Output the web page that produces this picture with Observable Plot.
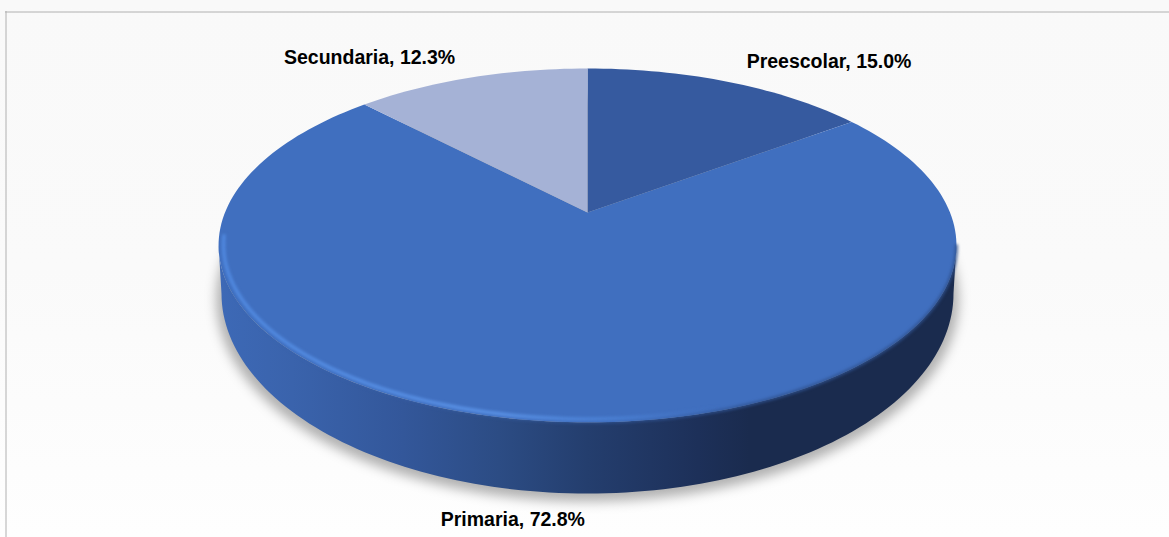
<!DOCTYPE html>
<html><head><meta charset="utf-8">
<script src="https://cdn.jsdelivr.net/npm/d3@7"></script>
<script src="https://cdn.jsdelivr.net/npm/@observablehq/plot@0.6"></script>
<style>html,body{margin:0;padding:0;background:#fbfbfb;overflow:hidden}svg{display:block}</style>
</head><body><div id="chart"></div>
<script>
const categories = ["Preescolar", "Primaria", "Secundaria"];
const shares = [15.0, 72.8, 12.3];
const colors = ["#365a9f", "#406fbf", "#a5b2d6"];
const labelDx = [100.5, -37, -101.5];
const labelDy = [-20, 98, -20];

const W = 1169, H = 537;
// perspective disc: angle (clockwise from top) to page position
const cx = 587, cy = 212, R = 362.5, S = 170.8, k = 0.186;
const project = (deg, rho = 1) => {
  const a = deg * Math.PI / 180, u = rho * Math.sin(a), v = rho * Math.cos(a), d = 1 + k * v;
  return {x: cx + R * u / d, y: cy - S * v / d};
};
const total = d3.sum(shares);
let acc = 0;
const slices = categories.map((name, i) => {
  const a0 = acc / total * 360; acc += shares[i];
  const a1 = acc / total * 360;
  return {name, a0, a1, mid: (a0 + a1) / 2, share: shares[i], i};
});
const slicePts = slices.flatMap(s => {
  const n = Math.ceil((s.a1 - s.a0) / 1.5);
  return [{...project(0, 0), name: s.name},
    ...d3.range(n + 1).map(j => ({...project(s.a0 + (s.a1 - s.a0) * j / n), name: s.name}))];
});
const labels = slices.map(s => ({...project(s.mid), text: `${s.name}, ${s.share.toFixed(1)}%`, i: s.i}));

// rim of the top face, right tip round the bottom to the left tip (tips where x is extreme)
const tip = Math.acos(-k) * 180 / Math.PI;
const arc = (rho, from, to) => d3.range(0, 121).map(j => project(from + (to - from) * j / 120, rho));
const rim = arc(1, tip, 360 - tip);
const inner = arc(0.987, tip + 8, 360 - tip + 3);
// bottom edge of the wall
const bottom = d3.range(0, 121).map(j => {
  const a = Math.PI * j / 120;
  return {x: cx - 366 * Math.cos(a), y: 293 + 200 * Math.sin(a)};
});
const wall = [...rim, ...bottom];
const shadow = d3.range(0, 181).map(j => {
  const a = 2 * Math.PI * j / 180;
  return {x: cx + 371 * Math.cos(a), y: 299 + 202 * Math.sin(a)};
});

const defs = () => {
  const s = d3.create("svg:defs");
  const grad = (id, stops) => {
    const g = s.append("linearGradient").attr("id", id).attr("gradientUnits", "userSpaceOnUse")
      .attr("x1", 218).attr("x2", 956).attr("y1", 0).attr("y2", 0);
    stops.forEach(([o, c, a = 1]) => g.append("stop").attr("offset", o).attr("stop-color", c).attr("stop-opacity", a));
  };
  grad("wallGrad", [[0, "#3d69b6"], [0.1, "#3a63ac"], [0.25, "#33579a"], [0.38, "#2c4c84"], [0.5, "#243e6e"], [0.65, "#1d3059"], [0.72, "#1a2b4e"], [1, "#1a2b4e"]]);
  grad("rimGrad", [[0, "#5089e0", 1], [0.38, "#5a92e6", 1], [0.55, "#5089de", 0.6], [0.68, "#4a7cce", 0]]);
  grad("seamGrad", [[0, "#406fbf", 0], [0.5, "#406fbf", 0.3], [0.72, "#2f5290", 0.9], [1, "#2f5290", 0.9]]);
  return s.node();
};

const chart = Plot.plot({
  width: W, height: H, margin: 0,
  x: {domain: [0, W], range: [0, W], axis: null},
  y: {domain: [0, H], range: [0, H], axis: null},
  color: {domain: categories, range: colors},
  style: {background: "linear-gradient(#f9f9f9, #fafafa 50%, #fefefe)"},
  marks: [
    defs,
    Plot.ruleY([11.5], {x1: 5, x2: W, stroke: "#b0b0b0", strokeWidth: 1}),
    Plot.ruleX([5.5], {y1: 11, y2: H, stroke: "#b0b0b0", strokeWidth: 1}),
    Plot.line(shadow, {x: "x", y: "y", fill: "#000", fillOpacity: 0.3, stroke: "none", imageFilter: "blur(6px)"}),
    Plot.line(wall, {x: "x", y: "y", fill: "url(#wallGrad)", stroke: "none"}),
    Plot.line(slicePts, {x: "x", y: "y", z: "name", fill: "name", stroke: "none"}),
    Plot.line(rim, {x: "x", y: "y", stroke: "url(#seamGrad)", strokeWidth: 3, imageFilter: "blur(1.5px)"}),
    Plot.line(inner, {x: "x", y: "y", stroke: "url(#rimGrad)", strokeWidth: 3.5, imageFilter: "blur(1.4px)"}),
    Plot.text(labels, {
      x: d => d.x + labelDx[d.i], y: d => d.y + labelDy[d.i], text: "text",
      fontFamily: "'Liberation Sans', Arial, sans-serif", fontWeight: "bold", fontSize: 19.5, fill: "#000"
    })
  ]
});
document.getElementById("chart").append(chart);
</script></body></html>
